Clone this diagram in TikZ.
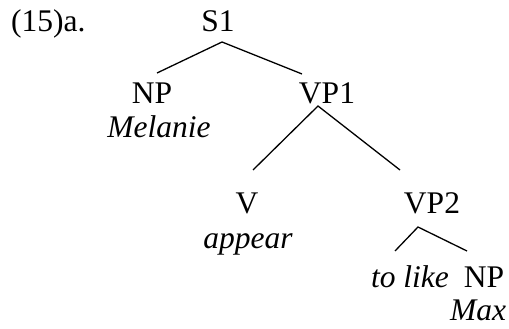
\documentclass[tikz,border=0pt]{standalone}
\usepackage{fontspec}
\setmainfont{Liberation Serif}
\tikzset{
  cat/.style={anchor=base, inner sep=0pt, font=\fontsize{31.5}{37}\selectfont},
  word/.style={cat, font=\fontsize{31.5}{37}\selectfont\itshape},
  branch/.style={line width=1.3pt}
}
\begin{document}
\begin{tikzpicture}[x=1pt, y=-1pt]
      \useasboundingbox (0, 0) rectangle (509, 329);
      \node (ex) [cat, anchor=base west] at (11, 32) {(15)a.};
      \node (s1) [cat] at (218, 32) {S1};
      \node (np1) [cat] at (152, 103) {NP};
      \node (mel) [word] at (159, 137) {Melanie};
      \node (vp1) [cat] at (327, 103) {VP1};
      \node (v) [cat] at (247, 213) {V};
      \node (appear) [word] at (248, 248) {appear};
      \node (vp2) [cat] at (432, 213) {VP2};
      \node (tolike) [word] at (410, 287) {to like};
      \node (np2) [cat] at (484, 287) {NP};
      \node (max) [word] at (478, 320) {Max};
      \draw[branch] ([shift={(-25, -29)}]vp1.base) -- ([shift={(4, 10)}]s1.base)
                    -- ([shift={(5, -30)}]np1.base);
      \draw[branch] ([shift={(6, -43)}]v.base) -- ([shift={(-9, 3)}]vp1.base)
                    -- ([shift={(-32, -43)}]vp2.base);
      \draw[branch] ([shift={(-15, -36)}]tolike.base) -- ([shift={(-14, 14)}]vp2.base)
                    -- ([shift={(-17, -36)}]np2.base);
\end{tikzpicture}
\end{document}
